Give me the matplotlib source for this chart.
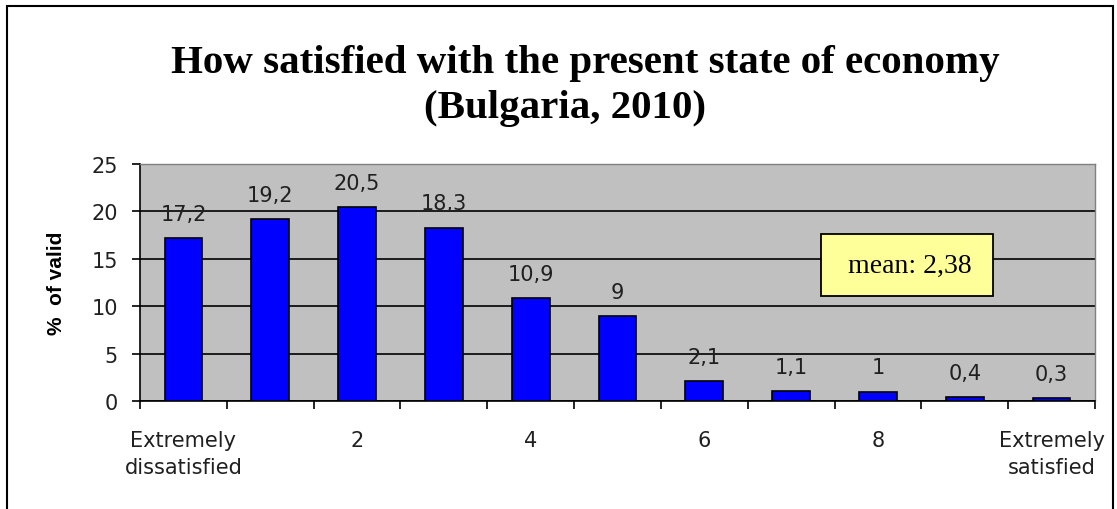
import matplotlib.pyplot as plt
import numpy as np
from matplotlib.patches import Rectangle

# data
categories = ["Extremely\ndissatisfied", "1", "2", "3", "4", "5", "6", "7", "8", "9",
              "Extremely\nsatisfied"]
shown_labels = ["Extremely\ndissatisfied", "", "2", "", "4", "", "6", "", "8", "",
                "Extremely\nsatisfied"]
values = [17.2, 19.2, 20.5, 18.3, 10.9, 9.0, 2.1, 1.1, 1.0, 0.4, 0.3]
value_labels = ["17,2", "19,2", "20,5", "18,3", "10,9", "9", "2,1", "1,1", "1", "0,4", "0,3"]
mean_text = "mean: 2,38"
title_lines = ["How satisfied with the present state of economy", "(Bulgaria, 2010)"]

W, H = 1117, 510
SANS = "DejaVu Sans"
SERIF = "Liberation Serif"

fig = plt.figure(figsize=(W / 100, H / 100), dpi=100)
ax = fig.add_axes([140 / W, 1 - 402 / H, (1095 - 140) / W, (402 - 165) / H])

x = np.arange(len(values))
ax.set_facecolor("#c0c0c0")
ax.bar(x, values, width=0.435, color="#0000ff", edgecolor="black", linewidth=1.2, zorder=3)

# value labels over the bars
for xi, v, lab in zip(x, values, value_labels):
    ax.annotate(lab, (xi, v), xytext=(0, 13), textcoords="offset points",
                ha="center", va="baseline", fontsize=15, family=SANS, color="#202020")

ax.set_xlim(-0.5, len(values) - 0.5)
ax.set_ylim(0, 25)
ax.set_yticks([0, 5, 10, 15, 20, 25])
ax.yaxis.grid(True, color="black", linewidth=1.2, zorder=1)
ax.set_axisbelow(True)

ax.set_xticks(np.arange(-0.5, len(values), 1))
ax.set_xticklabels([])
ax.set_xticks(x, labels=shown_labels, minor=True)
ax.tick_params(axis="x", which="major", length=6, width=1.2, direction="out")
ax.tick_params(axis="x", which="minor", length=0, pad=21, labelsize=15, labelcolor="#202020")
ax.tick_params(axis="y", length=6, width=1.2, labelsize=15, pad=10, labelcolor="#202020")
for t in ax.get_xticklabels(minor=True) + ax.get_yticklabels():
    t.set_family(SANS)
for t in ax.get_xticklabels(minor=True):
    t.set_multialignment("center")
    t.set_linespacing(1.4)

for s in ["left", "bottom"]:
    ax.spines[s].set_color("black")
    ax.spines[s].set_linewidth(1.2)
for s in ["top", "right"]:
    ax.spines[s].set_color("#808080")
    ax.spines[s].set_linewidth(1.0)

ax.set_ylabel("%  of valid", fontsize=15, fontweight="bold", family="Liberation Sans",
              labelpad=18)

# mean box
ax.add_patch(Rectangle((0.713, 0.443), 0.180, 0.262, transform=ax.transAxes,
                       facecolor="#ffff99", edgecolor="black", linewidth=1.3, zorder=5))
ax.text(0.806, 0.574, mean_text, transform=ax.transAxes, ha="center", va="center",
        fontsize=20, family=SERIF, zorder=6)

fig.text(585 / W, 1 - 73 / H, title_lines[0], ha="center", va="baseline",
         fontsize=29.5, fontweight="bold", family=SERIF)
fig.text(565 / W, 1 - 118 / H, title_lines[1], ha="center", va="baseline",
         fontsize=29.5, fontweight="bold", family=SERIF)

fig.patches.append(Rectangle((7 / W, -0.1), (1113 - 7) / W, 1.1 - 7 / H,
                             transform=fig.transFigure, fill=False, edgecolor="black",
                             linewidth=1.5))

fig.savefig("out.png", dpi=100)
